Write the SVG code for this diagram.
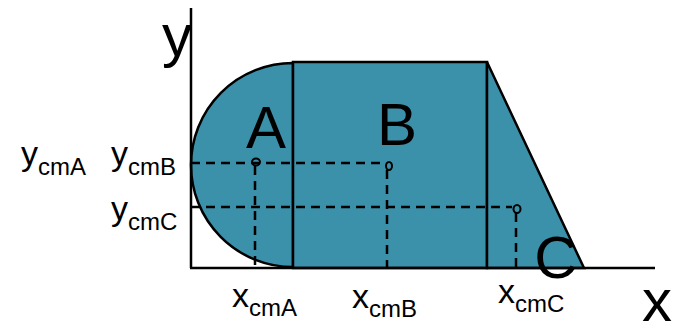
<svg xmlns="http://www.w3.org/2000/svg" width="683" height="324" viewBox="0 0 683 324">
<style>
.shape{fill:#3B91A9;stroke:#000;stroke-width:2.5;stroke-linejoin:miter}
.axis{stroke:#000;stroke-width:2.5;fill:none}
.dash{stroke:#000;stroke-width:2.5;stroke-dasharray:9 6;fill:none}
.pt{fill:none;stroke:#000;stroke-width:2}
text{font-family:"Liberation Sans",Arial,sans-serif;fill:#000}
.big{font-size:60px}
.lab{font-size:34px}
.sub{font-size:24px}
</style>
<rect width="683" height="324" fill="#fff"/>
<g id="A">
<path class="shape" d="M293,63 A102,102 0 0 0 293,267 Z"/>
</g>
<g id="B">
<rect class="shape" x="293" y="62" width="194" height="206"/>
</g>
<g id="C">
<path class="shape" d="M487,62 L584,268 L487,268 Z"/>
</g>
<g id="axes">
<line class="axis" x1="191" y1="8" x2="191" y2="268"/>
<line class="axis" x1="190" y1="268" x2="655" y2="268"/>
</g>
<g id="connectors">
<path class="dash" d="M191,163 H386 M255,166 V268 M387,170 V268 M191,207 H512 M516,213 V268"/>
<ellipse class="pt" cx="256" cy="162" rx="4" ry="3.5"/>
<ellipse class="pt" cx="389" cy="166" rx="3" ry="4"/>
<ellipse class="pt" cx="517" cy="209" rx="3.5" ry="4"/>
</g>
<g id="labels">
<text class="big" x="266" y="148" text-anchor="middle">A</text>
<text class="big" x="397" y="145" text-anchor="middle">B</text>
<text class="big" x="556" y="278" text-anchor="middle">C</text>
<text class="big" x="162" y="56">y</text>
<text class="big" x="642" y="321">x</text>
<text x="21" y="165"><tspan class="lab">y</tspan><tspan class="sub" dy="10">cmA</tspan></text>
<text x="111" y="165"><tspan class="lab">y</tspan><tspan class="sub" dy="10">cmB</tspan></text>
<text x="111" y="220"><tspan class="lab">y</tspan><tspan class="sub" dy="10">cmC</tspan></text>
<text x="232" y="307"><tspan class="lab">x</tspan><tspan class="sub" dy="9">cmA</tspan></text>
<text x="352" y="308"><tspan class="lab">x</tspan><tspan class="sub" dy="9">cmB</tspan></text>
<text x="498" y="303"><tspan class="lab">x</tspan><tspan class="sub" dy="9">cmC</tspan></text>
</g>
</svg>
